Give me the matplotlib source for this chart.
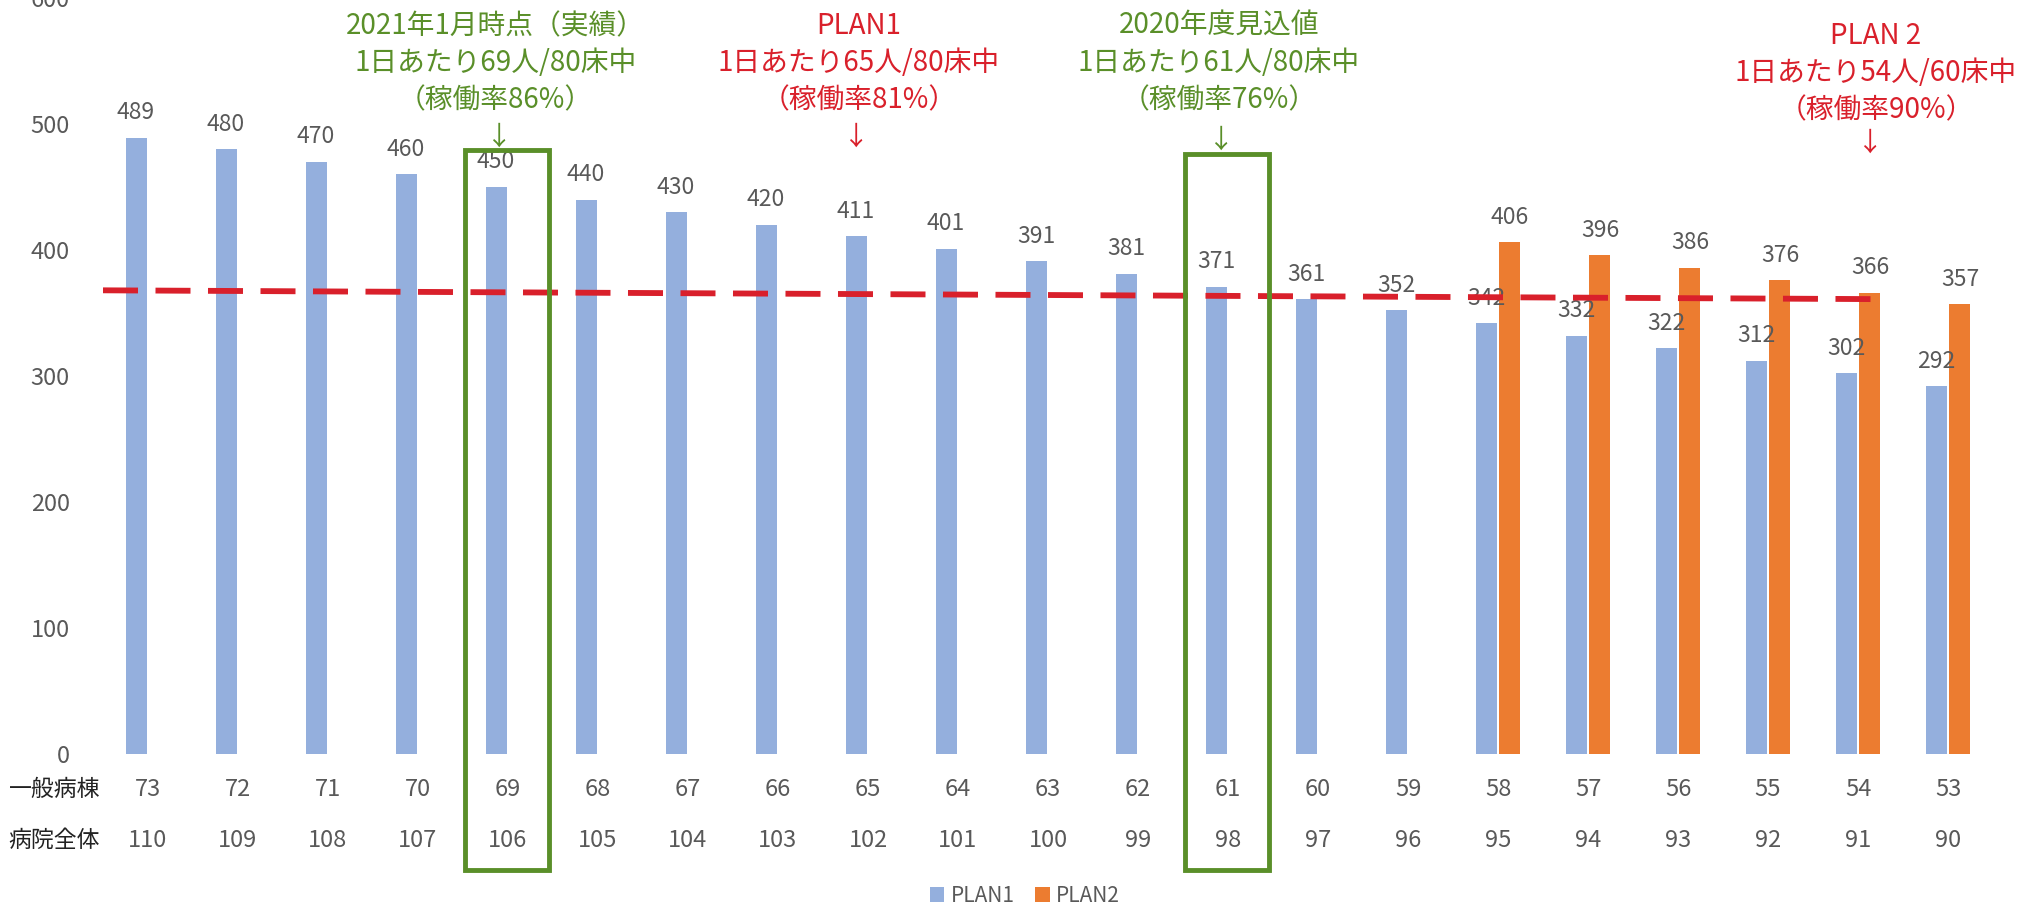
import numpy as np
import matplotlib.pyplot as plt
import matplotlib.transforms as mtransforms
from matplotlib.patches import Rectangle

plt.rcParams['font.family'] = ['Noto Sans CJK JP', 'DejaVu Sans']

# data
plan1 = [489, 480, 470, 460, 450, 440, 430, 420, 411, 401, 391, 381, 371, 361, 352,
         342, 332, 322, 312, 302, 292]
plan2 = [None] * 15 + [406, 396, 386, 376, 366, 357]
general_ward = [73, 72, 71, 70, 69, 68, 67, 66, 65, 64, 63, 62, 61, 60, 59, 58, 57, 56, 55, 54, 53]
whole_hospital = [110, 109, 108, 107, 106, 105, 104, 103, 102, 101, 100, 99, 98, 97, 96,
                  95, 94, 93, 92, 91, 90]
row_labels = ['一般病棟', '病院全体']
series_names = ['PLAN1', 'PLAN2']
target_line = [368, 361]   # red dashed reference level (left end, right end)
boxed = [4, 12]            # categories framed in green

blue = '#94afdd'
orange = '#ec7c30'
red = '#d9202b'
green = '#5a8f29'
gray = '#595959'

fig = plt.figure(figsize=(20.29, 9.05), dpi=100)
ax = fig.add_axes([103 / 2029, 151 / 905, 1890 / 2029, 756 / 905])

x = np.arange(len(plan1))
w = 0.233
off = 0.133
ax.bar(x - off, plan1, width=w, color=blue, label=series_names[0], zorder=2)
idx2 = [i for i, v in enumerate(plan2) if v is not None]
vals2 = [plan2[i] for i in idx2]
ax.bar(np.array(idx2) + off, vals2, width=w, color=orange, label=series_names[1], zorder=2)

for i, v in enumerate(plan1):
    ax.annotate(str(v), (i - off, v), xytext=(0, 18), textcoords='offset points',
                ha='center', va='center', fontsize=16.5, color=gray)
for i, v in zip(idx2, vals2):
    ax.annotate(str(v), (i + off, v), xytext=(0, 18), textcoords='offset points',
                ha='center', va='center', fontsize=16.5, color=gray)

ax.set_xlim(-0.5, len(plan1) - 0.5)
ax.set_ylim(0, 600)
ax.set_yticks(range(0, 601, 100))
ax.tick_params(axis='y', length=0, pad=24, labelsize=17, labelcolor=gray)
ax.set_xticks([])
for s in ax.spines.values():
    s.set_visible(False)

# red dashed reference line
ax.plot([-0.5, 19.24], target_line, color=red, lw=4.2, dashes=(6, 3), zorder=3)

# table rows under the chart
tr = mtransforms.blended_transform_factory(ax.transData, fig.transFigure)
row_y = [1 - 789 / 905, 1 - 840 / 905]
for row, vals, yy in zip(row_labels, [general_ward, whole_hospital], row_y):
    fig.text(100 / 2029, yy, row, ha='right', va='center', fontsize=16.5, color='#222222')
    for i, v in enumerate(vals):
        ax.text(i, yy, str(v), transform=tr, ha='center', va='center', fontsize=17,
                color=gray, clip_on=False)

# green frames
for b in boxed:
    top = 479 if b == 4 else 476
    ax.add_patch(Rectangle((b - 0.48, -92), 0.93, top + 92, fill=False, edgecolor=green,
                           lw=3.5, clip_on=False, zorder=4))

# annotations
def note(xc, lines, color, y0, xa, ya):
    for k, line in enumerate(lines):
        ax.text(xc, 1 - (y0 + 37 * k) / 905, line, transform=tr, ha='center', va='center',
                fontsize=20, color=color, clip_on=False)
    ax.text(xa, 1 - ya / 905, '↓', transform=tr, ha='center', va='center',
            fontsize=19, color=color, clip_on=False)

note(3.86, ['2021年1月時点（実績）', '1日あたり69人/80床中', '（稼働率86%）'], green, 26, 3.9, 137)
note(7.9, ['PLAN1', '1日あたり65人/80床中', '（稼働率81%）'], red, 26, 7.87, 137)
note(11.9, ['2020年度見込値', '1日あたり61人/80床中', '（稼働率76%）'], green, 26, 11.92, 140)
note(19.2, ['PLAN 2', '1日あたり54人/60床中', '（稼働率90%）'], red, 36, 19.13, 143)

leg = fig.legend(loc='center', bbox_to_anchor=(1025 / 2029, 1 - 896 / 905), ncol=2,
                 frameon=False, fontsize=15, handlelength=0.7, handleheight=0.7,
                 handletextpad=0.3, columnspacing=1.0)
for t in leg.get_texts():
    t.set_color(gray)

fig.savefig('out.png', dpi=100)
